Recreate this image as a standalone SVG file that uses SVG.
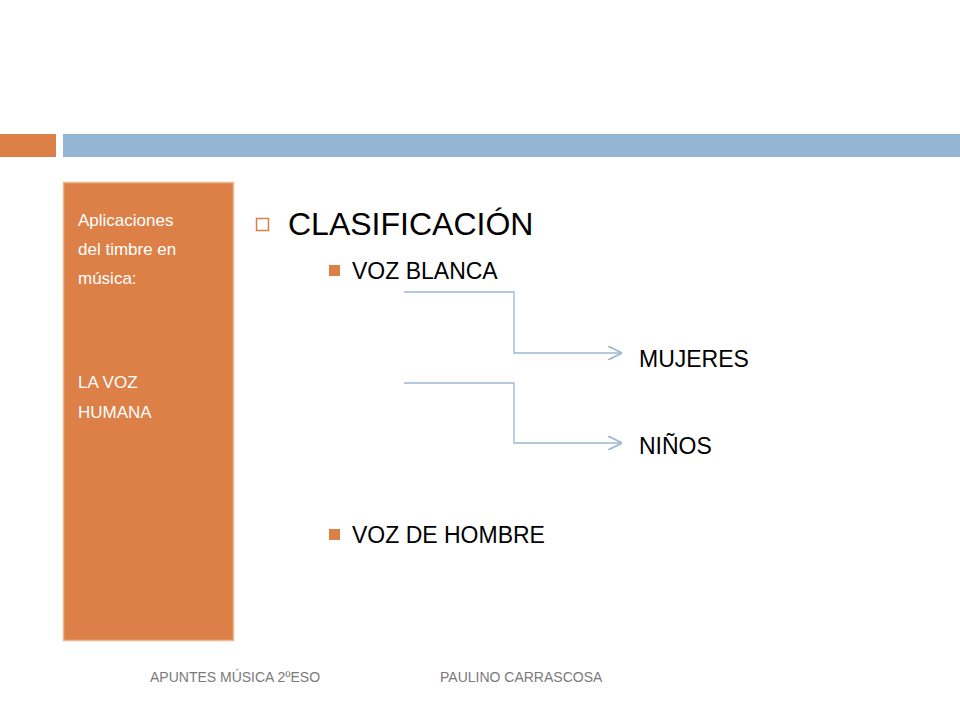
<svg xmlns="http://www.w3.org/2000/svg" width="960" height="720" viewBox="0 0 960 720">
<style>
text{font-family:"Liberation Sans",Arial,sans-serif;}
.w{fill:#fff;font-size:17px;}
.b{fill:#000;font-size:23px;}
.f{fill:#7a7a7a;font-size:14px;}
.c{fill:none;stroke:#9db8d2;stroke-width:1.3;}
</style>
<defs><marker id="a" viewBox="0 0 10 10" refX="10" refY="5" markerWidth="14" markerHeight="14" markerUnits="userSpaceOnUse" orient="auto"><path d="M0,0 L10,5 L0,10" fill="none" stroke="#9db8d2" stroke-width="1.3"/></marker></defs>
<rect width="960" height="720" fill="#fff"/>
<rect x="0" y="134" width="56" height="23" fill="#dd8047"/>
<rect x="63" y="134" width="897" height="23" fill="#94b6d2"/>
<g id="sidebar">
<rect x="63.5" y="182.5" width="170" height="458" fill="#dd8047" stroke="#f0b890" stroke-width="1.5"/>
<text class="w" x="78" y="226">Aplicaciones</text>
<text class="w" x="78" y="255">del timbre en</text>
<text class="w" x="78" y="284">música:</text>
<text class="w" x="78" y="388">LA VOZ</text>
<text class="w" x="78" y="418">HUMANA</text>
</g>
<g id="title">
<rect x="256.5" y="218.5" width="12" height="12" fill="none" stroke="#dd8047" stroke-width="1.5"/>
<text x="288" y="235" font-size="32" fill="#000">CLASIFICACIÓN</text>
</g>
<g id="vozblanca"><rect x="329" y="265" width="11" height="11" fill="#dd8047"/><text class="b" x="352" y="279">VOZ BLANCA</text></g>
<g id="mujeres"><text class="b" x="639" y="367">MUJERES</text></g>
<g id="ninos"><text class="b" x="639" y="454">NIÑOS</text></g>
<g id="vozhombre"><rect x="329" y="529" width="11" height="11" fill="#dd8047"/><text class="b" x="352" y="543">VOZ DE HOMBRE</text></g>
<g id="connectors">
<path class="c" d="M404,292 H514 V353 H622" marker-end="url(#a)"/>
<path class="c" d="M404,383 H514 V443 H622" marker-end="url(#a)"/>
</g>
<text class="f" x="150" y="682">APUNTES MÚSICA 2ºESO</text>
<text class="f" x="440" y="682">PAULINO CARRASCOSA</text>
</svg>
